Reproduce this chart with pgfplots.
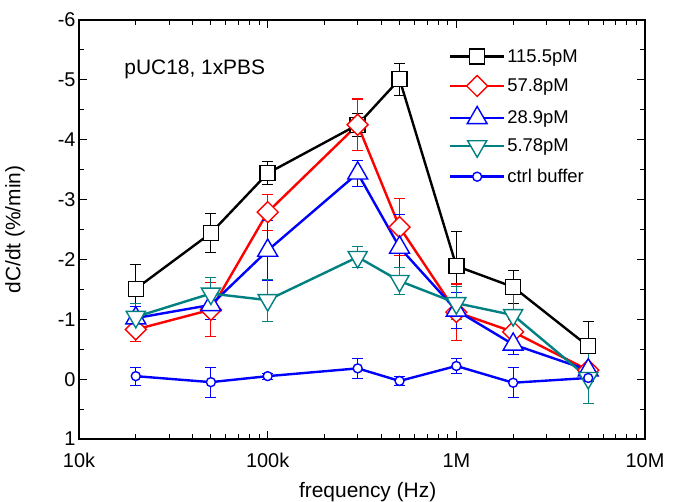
\documentclass[border=0pt]{standalone}
\usepackage{pgfplots}
\pgfplotsset{compat=1.18}
\usepackage{fontspec}
\setmainfont{Liberation Sans}
\definecolor{teal1}{RGB}{0,128,128}
\begin{document}
\begin{tikzpicture}
\path[use as bounding box] (-79bp,-63bp) rectangle (601bp,439bp);
\begin{axis}[
  scale only axis, width=566bp, height=419bp,
  xmode=log, xmin=1e4, xmax=1e7,
  ymin=-6, ymax=1, y dir=reverse,
  ytick={-6,-5,-4,-3,-2,-1,0,1}, minor y tick num=1,
  xtick={1e4,1e5,1e6,1e7}, xticklabels={10k,100k,1M,10M},
  tick align=inside, major tick length=8bp, minor tick length=5bp,
  every tick/.style={black, line width=0.9bp},
  axis line style={line width=1.3bp},
  tick label style={font=\fontsize{20}{24}\selectfont},
  xticklabel style={yshift=-11bp},
  /pgf/number format/assume math mode=true,
  xlabel={frequency (Hz)}, ylabel={dC/dt (\%/min)},
  label style={font=\fontsize{21}{25}\selectfont},
  xlabel style={at={(axis description cs:0.51,-0.127)}, anchor=center},
  ylabel style={at={(axis description cs:-0.113,0.5)}, anchor=center},
  legend style={at={(axis description cs:0.648,0.94)}, anchor=north west, draw=none, fill=none,
    font=\fontsize{18.5}{22}\selectfont, row sep=10bp},
  legend cell align=left,
  legend image code/.code={\draw[mark repeat=2,mark phase=2] plot coordinates {(0bp,0bp) (27bp,0bp) (54bp,0bp)};},
  error bars/y dir=both, error bars/y explicit,
]
\addplot[black, line width=2.4bp, mark=square*, mark size=7.5bp, mark options={fill=white, line width=1.4bp},
  error bars/error mark options={black, mark size=5.5bp, line width=1.1bp, rotate=90},
  error bars/error bar style={line width=1.1bp}]
  table[x=x, y=y, y error=e] {
x y e
2e4 -1.51 0.40
5e4 -2.44 0.33
1e5 -3.44 0.19
3e5 -4.25 0.19
5e5 -5.01 0.27
1e6 -1.89 0.57
2e6 -1.54 0.27
5e6 -0.55 0.42
};
\addlegendentry{115.5pM}
\addplot[red, line width=2.4bp, mark=square*, mark size=7.4bp, mark options={fill=white, line width=1.4bp, rotate=45},
  error bars/error mark options={red, mark size=5.5bp, line width=1.1bp, rotate=90},
  error bars/error bar style={line width=1.1bp}]
  table[x=x, y=y, y error=e] {
x y e
2e4 -0.83 0.20
5e4 -1.16 0.45
1e5 -2.79 0.30
3e5 -4.25 0.43
5e5 -2.54 0.48
1e6 -1.12 0.47
2e6 -0.79 0.20
5e6 -0.15 0.10
};
\addlegendentry{57.8pM}
\addplot[blue, line width=2.4bp, mark=triangle*, mark size=11.5bp, mark options={fill=white, line width=1.4bp},
  error bars/error mark options={blue, mark size=5.5bp, line width=1.1bp, rotate=90},
  error bars/error bar style={line width=1.1bp}]
  table[x=x, y=y, y error=e] {
x y e
2e4 -1.02 0.20
5e4 -1.24 0.25
1e5 -2.15 0.50
3e5 -3.44 0.22
5e5 -2.20 0.55
1e6 -1.15 0.30
2e6 -0.58 0.17
5e6 -0.15 0.10
};
\addlegendentry{28.9pM}
\addplot[teal1, line width=2.4bp, mark=triangle*, mark size=11bp, mark options={fill=white, line width=1.4bp, rotate=180},
  error bars/error mark options={teal1, mark size=5.5bp, line width=1.1bp, rotate=90},
  error bars/error bar style={line width=1.1bp}]
  table[x=x, y=y, y error=e] {
x y e
2e4 -1.04 0.23
5e4 -1.43 0.27
1e5 -1.32 0.35
3e5 -2.04 0.18
5e5 -1.64 0.22
1e6 -1.27 0.28
2e6 -1.07 0.45
5e6 -0.02 0.43
};
\addlegendentry{5.78pM}
\addplot[blue, line width=2.4bp, mark=*, mark size=4.5bp, mark options={fill=white, line width=1.4bp},
  error bars/error mark options={blue, mark size=5.5bp, line width=1.1bp, rotate=90},
  error bars/error bar style={line width=1.1bp}]
  table[x=x, y=y, y error=e] {
x y e
2e4 -0.05 0.15
5e4 0.05 0.25
1e5 -0.05 0.05
3e5 -0.18 0.17
5e5 0.03 0.07
1e6 -0.22 0.12
2e6 0.06 0.25
5e6 -0.02 0.06
};
\addlegendentry{ctrl buffer}
\node[anchor=west, font=\fontsize{21}{25}\selectfont] at (axis description cs:0.074,0.881) {pUC18, 1xPBS};
\end{axis}
\end{tikzpicture}
\end{document}
